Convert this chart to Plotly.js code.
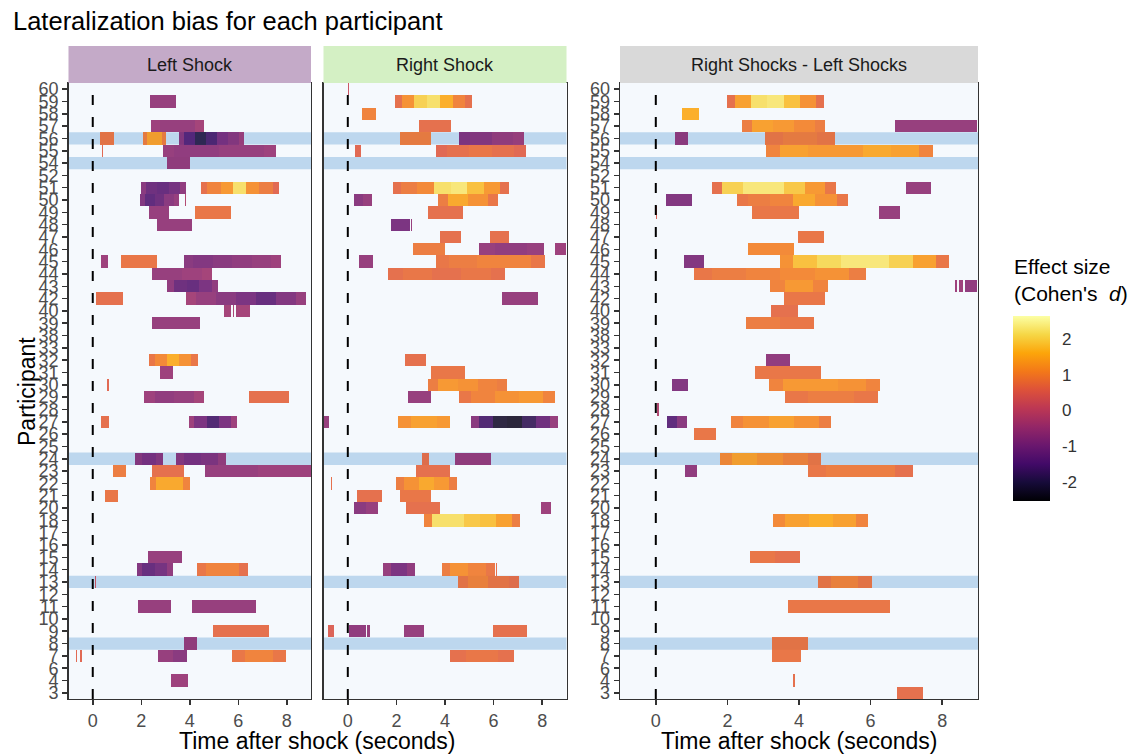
<!DOCTYPE html>
<html><head><meta charset="utf-8">
<script src="https://cdn.plot.ly/plotly-3.0.1.min.js"></script>
<style>html,body{margin:0;padding:0;background:#fff}#chart{width:1137px;height:754px}</style>
</head><body><div id="chart"></div>
<script>
// ---------- data ----------
const participants = [3,4,6,7,8,9,10,11,12,13,14,15,16,17,18,20,21,22,23,24,25,26,27,28,29,30,31,32,33,38,39,40,42,43,44,45,46,47,48,49,50,51,52,54,55,56,57,58,59,60];
const highlighted = [56,54,24,13,8];
const panelTitles = ['Left Shock','Right Shock','Right Shocks - Left Shocks'];
const timeTicks = [0,2,4,6,8];
const colorTicks = [-2,-1,0,1,2];
const chartTitle = 'Lateralization bias for each participant';
const xTitle = 'Time after shock (seconds)';
const yTitle = 'Participant';
const legendTitle = "Effect size<br>(Cohen's  <i>d</i>)";

// [participant, start (s), end (s), effect sizes read evenly along the run]
const leftShock = [
 [59,2.35,3.42,[-0.6]],
 [57,2.39,4.58,[-0.5,-0.6,-0.6,-0.4]],
 [56,0.30,0.89,[0.8]],
 [56,2.08,3.01,[0.9,1.4,1.4,0.9]],
 [56,3.54,6.24,[-0.8,-1.5,-2.0,-1.6,-1.0,-0.8,-0.5]],
 [55,0.37,0.44,[0.6]],
 [55,2.90,7.51,[-0.6,-0.7,-0.7,-0.6,-0.6,-0.5]],
 [54,3.07,3.98,[-0.6]],
 [51,1.98,3.81,[-0.8,-1.2,-1.3,-1.1,-0.7]],
 [51,4.44,7.68,[0.7,1.0,1.3,2.2,1.2,0.9,0.6]],
 [50,1.94,3.54,[-0.9,-1.4,-1.2,-0.8,-0.6]],
 [50,3.78,3.84,[-0.2]],
 [49,2.30,3.11,[-0.6]],
 [49,4.19,5.67,[0.8]],
 [48,2.64,4.10,[-0.6]],
 [45,0.33,0.64,[-0.5]],
 [45,1.15,2.64,[0.8]],
 [45,3.73,7.75,[-0.8,-0.9,-0.8,-0.7,-0.6,-0.5]],
 [44,2.45,4.90,[-0.6,-0.6,-0.5,-0.4]],
 [43,3.07,5.16,[-0.7,-1.2,-1.3,-1.0,-0.7]],
 [42,0.15,1.24,[0.7]],
 [42,3.84,8.77,[-0.4,-0.6,-0.8,-1.0,-1.3,-0.9,-0.6]],
 [40,5.41,5.69,[-0.4]],
 [40,5.76,5.82,[-0.3]],
 [40,5.89,6.45,[-0.4]],
 [39,2.42,4.40,[-0.6]],
 [32,2.31,4.32,[0.8,1.1,1.6,1.2,0.8]],
 [31,2.76,3.27,[-0.5]],
 [30,0.60,0.66,[0.6]],
 [29,2.13,4.58,[-0.5,-0.7,-0.6,-0.4]],
 [29,6.42,8.06,[0.7]],
 [27,0.34,0.68,[0.7]],
 [27,3.93,5.93,[-0.5,-1.0,-1.6,-1.0,-0.5]],
 [24,1.75,2.90,[-0.8,-1.0,-0.8]],
 [24,3.42,5.49,[-0.8,-1.0,-0.9,-0.6]],
 [23,0.85,1.37,[0.9]],
 [23,2.45,3.73,[0.7]],
 [23,4.60,8.95,[-0.6,-0.6,-0.5,-0.5]],
 [22,2.35,4.00,[1.0,1.5,1.5,1.0]],
 [21,0.51,1.04,[0.8]],
 [15,2.28,3.65,[-0.6]],
 [14,1.80,3.28,[-0.9,-1.3,-1.1,-0.7]],
 [14,4.28,6.38,[0.8,1.0,1.0,0.7]],
 [13,0.10,0.15,[0.2]],
 [11,1.84,3.21,[-0.6]],
 [11,4.11,6.72,[-0.6]],
 [9,4.95,7.25,[0.7]],
 [8,3.74,4.28,[-0.6]],
 [7,-0.70,-0.65,[0.6]],
 [7,-0.51,-0.46,[0.6]],
 [7,2.68,3.87,[-0.6,-0.8]],
 [7,5.72,7.95,[0.8,1.0,0.8]],
 [4,3.22,3.92,[-0.5]]
];
const rightShock = [
 [60,0.00,0.04,[0.2]],
 [59,1.95,5.10,[0.7,1.2,2.0,2.2,1.6,1.0,0.7]],
 [58,0.59,1.17,[1.0]],
 [57,2.95,4.23,[0.7]],
 [56,2.14,3.42,[0.9]],
 [56,4.58,7.25,[-0.9,-0.8,-0.6,-0.5]],
 [55,0.29,0.57,[0.6]],
 [55,3.62,7.32,[0.6,0.7,0.8,0.7,0.6]],
 [51,1.83,6.63,[0.7,0.9,1.1,2.2,2.3,1.8,1.3,0.7]],
 [50,0.23,1.00,[-0.8,-0.6]],
 [50,3.72,6.17,[0.9,1.5,1.2,0.8]],
 [49,3.31,4.75,[0.7]],
 [48,1.78,2.54,[-1.0]],
 [48,2.60,2.65,[-0.6]],
 [47,3.80,4.64,[0.7]],
 [47,5.87,6.63,[0.7]],
 [46,2.70,4.02,[0.9]],
 [46,5.38,8.06,[-0.6,-0.7,-0.6]],
 [46,8.54,8.95,[-0.5]],
 [45,0.46,1.04,[-0.6]],
 [45,3.62,8.09,[0.8,0.9,1.0,1.0,0.8]],
 [44,1.65,6.48,[0.7,0.8,0.7,0.8,0.7]],
 [42,6.35,7.84,[-0.6]],
 [32,2.35,3.21,[0.7]],
 [31,3.42,4.84,[0.8]],
 [30,3.32,6.54,[0.9,1.3,1.2,1.0,0.9]],
 [29,2.46,3.42,[-0.6]],
 [29,4.58,8.51,[0.8,1.0,1.2,1.3,1.0]],
 [27,-0.98,-0.79,[-0.6]],
 [27,2.09,4.19,[1.2,1.4,1.3]],
 [27,5.08,8.63,[-0.8,-1.6,-2.2,-2.3,-1.8,-1.2,-0.6]],
 [24,3.05,3.36,[0.7]],
 [24,4.40,5.87,[-0.6]],
 [23,2.83,4.22,[0.7]],
 [22,-0.70,-0.65,[0.7]],
 [22,2.01,4.47,[0.9,1.2,1.5,1.3,0.9]],
 [21,0.38,1.39,[0.7]],
 [21,2.17,3.43,[0.8]],
 [20,0.27,1.26,[-0.8,-0.6]],
 [20,2.38,3.77,[0.7]],
 [20,7.94,8.37,[-0.5]],
 [18,3.14,7.10,[1.0,2.2,2.2,1.9,1.8,1.4,0.9]],
 [14,1.46,2.77,[-0.6,-1.0,-0.7]],
 [14,3.85,6.05,[0.9,1.2,1.0,0.8]],
 [14,6.10,6.15,[0.7]],
 [13,4.52,7.04,[0.8,1.0,0.8,0.7]],
 [9,-0.82,-0.57,[0.5]],
 [9,0.07,0.74,[-0.7]],
 [9,0.81,0.92,[-0.6]],
 [9,2.32,3.13,[-0.6]],
 [9,5.97,7.38,[0.7]],
 [7,4.19,6.84,[0.7,0.8,0.7]]
];
const rightMinusLeft = [
 [59,1.99,4.70,[0.7,1.4,2.2,2.3,1.8,1.2,0.7]],
 [58,0.72,1.22,[1.6]],
 [57,2.41,4.74,[0.9,1.4,1.3,1.1,0.9]],
 [57,6.68,8.96,[-0.6]],
 [56,0.55,0.91,[-0.7]],
 [56,3.05,4.99,[0.8,0.9,0.8]],
 [55,3.09,7.74,[1.0,1.4,1.3,1.3,1.5,1.4,1.0]],
 [51,1.58,5.02,[0.7,2.0,2.3,2.3,1.9,1.3,0.8]],
 [51,7.00,7.69,[-0.6]],
 [50,0.29,1.01,[-0.9]],
 [50,2.26,5.38,[0.8,0.9,1.0,1.5,1.2,0.8]],
 [49,-0.01,0.03,[0.5]],
 [49,2.68,3.99,[0.8]],
 [49,6.24,6.81,[-0.6]],
 [47,3.99,4.69,[0.8]],
 [46,2.59,3.86,[1.1]],
 [45,0.81,1.34,[-0.9]],
 [45,3.49,8.18,[1.2,1.8,2.1,2.3,2.3,2.0,1.4,0.8]],
 [44,1.09,5.88,[0.8,0.9,1.0,1.1,1.2,0.9]],
 [43,3.20,4.81,[1.0,1.3,1.0]],
 [43,8.36,8.41,[-0.5]],
 [43,8.48,8.58,[-0.5]],
 [43,8.64,8.96,[-0.7]],
 [42,3.59,4.74,[0.8]],
 [40,3.22,3.95,[0.7]],
 [39,2.52,4.42,[0.9,0.8]],
 [32,3.08,3.76,[-0.7]],
 [31,2.78,4.62,[0.8]],
 [30,0.47,0.90,[-0.9]],
 [30,3.17,6.25,[1.0,1.3,1.3,1.2,1.0]],
 [29,3.61,6.19,[0.8,0.9,0.8]],
 [28,0.05,0.09,[-0.2]],
 [27,0.31,0.89,[-1.4,-0.8]],
 [27,2.10,4.90,[1.0,1.2,1.4,1.2,0.9]],
 [26,1.06,1.69,[0.8]],
 [24,1.78,4.62,[1.1,1.4,1.2,1.0,0.8]],
 [23,0.82,1.17,[-0.7]],
 [23,4.27,7.17,[0.8,0.9,0.9,0.7]],
 [18,3.29,5.92,[1.1,1.4,1.6,1.4,1.0]],
 [15,2.62,4.03,[0.8,0.7]],
 [13,4.52,6.04,[0.8,1.0,0.8]],
 [11,3.68,6.54,[0.8]],
 [8,3.25,4.26,[0.8]],
 [7,3.25,4.06,[0.8]],
 [4,3.82,3.89,[0.7]],
 [3,6.73,7.45,[0.7]]
];

// ---------- build ----------
const W = 1137, H = 754;
const step = 0.02, nCols = 500;
const tGrid = Array.from({length:nCols}, (_,k) => -1 + step/2 + k*step);
function buildZ(segs){
  const z = participants.map(() => new Array(nCols).fill(null));
  segs.forEach(([p,s,e,vals]) => {
    const r = participants.indexOf(p);
    let filled = false;
    tGrid.forEach((t,c) => {
      if (t >= s && t <= e){
        const f = (e - s) > 0 ? (t - s)/(e - s) : 0;
        z[r][c] = vals[Math.round(f*(vals.length-1))];
        filled = true;
      }
    });
    if (!filled){
      const c = Math.max(0, Math.min(nCols-1, Math.round(((s+e)/2 + 1 - step/2)/step)));
      z[r][c] = vals[0];
    }
  });
  return z;
}
const yIdx = participants.map((_,i) => i);
const panels = [leftShock, rightShock, rightMinusLeft];
const axSuffix = ['', '2', '3'];
const traces = panels.map((segs,i) => ({
  type:'heatmap', x:tGrid, y:yIdx, z:buildZ(segs),
  xaxis:'x'+axSuffix[i], yaxis:'y'+axSuffix[i],
  coloraxis:'coloraxis', opacity:0.86, hoverinfo:'skip'
}));

const px = v => v/W, py = v => 1 - v/H;
const xDomains = [[px(68.5),px(311)],[px(323.5),px(566.5)],[px(620),px(978)]];
const yDomain = [py(699), py(83)];
const stripColors = ['#c4aac8','#d4f0c4','#d9d9d9'];
const cMin = -2.53, cMax = 2.64;
const barTop = 316, barBottom = 501, barLeft = 1013, barThick = 37;

const inferno = [
 [0.0,'#000004'],[0.1,'#160B39'],[0.2,'#420A68'],[0.3,'#6A176E'],[0.4,'#932667'],
 [0.5,'#BC3754'],[0.6,'#DD513A'],[0.7,'#F37819'],[0.8,'#FCA50A'],[0.9,'#F6D746'],[1.0,'#FCFFA4']
];
const font = 'Liberation Sans, Arial, sans-serif';
const tickFontSize = 18;

const layout = {
  width:W, height:H,
  margin:{l:0,r:0,t:0,b:0,autoexpand:false},
  paper_bgcolor:'#ffffff', plot_bgcolor:'#f5f9fd',
  font:{family:font, color:'#000'},
  showlegend:false,
  title:{text:chartTitle, x:px(13), xanchor:'left', xref:'paper', y:py(21), yanchor:'middle', yref:'paper', font:{size:25.5, color:'#000', family:font}},
  coloraxis:{
    cmin:cMin, cmax:cMax, colorscale:inferno,
    colorbar:{
      x:px(barLeft), xanchor:'left', xpad:0, y:py(barBottom), yanchor:'bottom', ypad:0,
      len:barBottom-barTop, lenmode:'pixels', thickness:barThick, outlinewidth:0,
      tickvals:colorTicks, ticktext:colorTicks.map(String), ticks:'outside', ticklen:9, tickcolor:'rgba(255,255,255,0)', tickwidth:1,
      tickfont:{size:17, color:'#333', family:font},
      title:{text:''}
    }
  },
  shapes:[], annotations:[]
};

for (let i=0;i<3;i++){
  const s = axSuffix[i];
  layout['xaxis'+s] = {
    domain:xDomains[i], anchor:'y'+s, range:[-1,9], tickvals:timeTicks,
    ticks:'outside', ticklen:5, tickcolor:'#333', tickwidth:1.5,
    tickfont:{size:tickFontSize, color:'#4d4d4d', family:font},
    showgrid:false, zeroline:false, showline:true, mirror:true, linecolor:'#333', linewidth:1.3,
    automargin:false, fixedrange:true
  };
  layout['yaxis'+s] = {
    domain:yDomain, anchor:'x'+s, range:[-0.5,49.5],
    tickvals:yIdx, ticktext:participants.map(String),
    showticklabels: i !== 1, ticks: i !== 1 ? 'outside' : '', ticklen:5, tickcolor:'#333', tickwidth:1.5,
    tickfont:{size:tickFontSize, color:'#4d4d4d', family:font},
    showgrid:false, zeroline:false, showline:true, mirror:true, linecolor:'#333', linewidth:1.3,
    automargin:false, fixedrange:true
  };
  // highlighted participant bands
  highlighted.forEach(p => {
    const r = participants.indexOf(p);
    layout.shapes.push({type:'rect', layer:'below', xref:'x'+s+' domain', x0:0, x1:1,
      yref:'y'+s, y0:r-0.5, y1:r+0.5, fillcolor:'#bdd7ee', line:{width:0}});
  });
  // shock onset line
  layout.shapes.push({type:'line', layer:'above', xref:'x'+s, x0:0, x1:0,
    yref:'y'+s+' domain', y0:0, y1:1, line:{color:'#000', width:2, dash:'10px,12px'}});
  // facet strip
  layout.shapes.push({type:'rect', layer:'above', xref:'paper', x0:xDomains[i][0], x1:xDomains[i][1],
    yref:'paper', y0:py(83), y1:py(46), fillcolor:stripColors[i], line:{width:0}});
  layout.annotations.push({text:panelTitles[i], xref:'paper', x:(xDomains[i][0]+xDomains[i][1])/2,
    yref:'paper', y:py(64.5), showarrow:false, xanchor:'center', yanchor:'middle',
    font:{size:18, color:'#1a1a1a', family:font}});
}
// white tick marks inside both sides of the colour bar
colorTicks.forEach(v => {
  const yPix = barTop + (cMax - v)/(cMax - cMin)*(barBottom - barTop);
  [[barLeft, barLeft+7],[barLeft+barThick-7, barLeft+barThick]].forEach(([a,b]) => {
    layout.shapes.push({type:'line', layer:'above', xref:'paper', yref:'paper',
      x0:px(a), x1:px(b), y0:py(yPix), y1:py(yPix), line:{color:'#ffffff', width:1}});
  });
});
// colour bar title
layout.annotations.push({text:legendTitle, xref:'paper', x:px(barLeft-1), yref:'paper', y:py(280),
  showarrow:false, xanchor:'left', yanchor:'middle', align:'left',
  font:{size:21, color:'#000', family:font}});
// axis titles
layout.annotations.push({text:xTitle, xref:'paper', x:(xDomains[0][0]+xDomains[1][1])/2, yref:'paper', y:py(741),
  showarrow:false, xanchor:'center', yanchor:'middle', font:{size:23, color:'#000', family:font}});
layout.annotations.push({text:xTitle, xref:'paper', x:(xDomains[2][0]+xDomains[2][1])/2, yref:'paper', y:py(741),
  showarrow:false, xanchor:'center', yanchor:'middle', font:{size:23, color:'#000', family:font}});
layout.annotations.push({text:yTitle, xref:'paper', x:px(27), yref:'paper', y:py(391), textangle:-90,
  showarrow:false, xanchor:'center', yanchor:'middle', font:{size:23, color:'#000', family:font}});

Plotly.newPlot('chart', traces, layout, {displayModeBar:false, staticPlot:true});
</script>
</body></html>
